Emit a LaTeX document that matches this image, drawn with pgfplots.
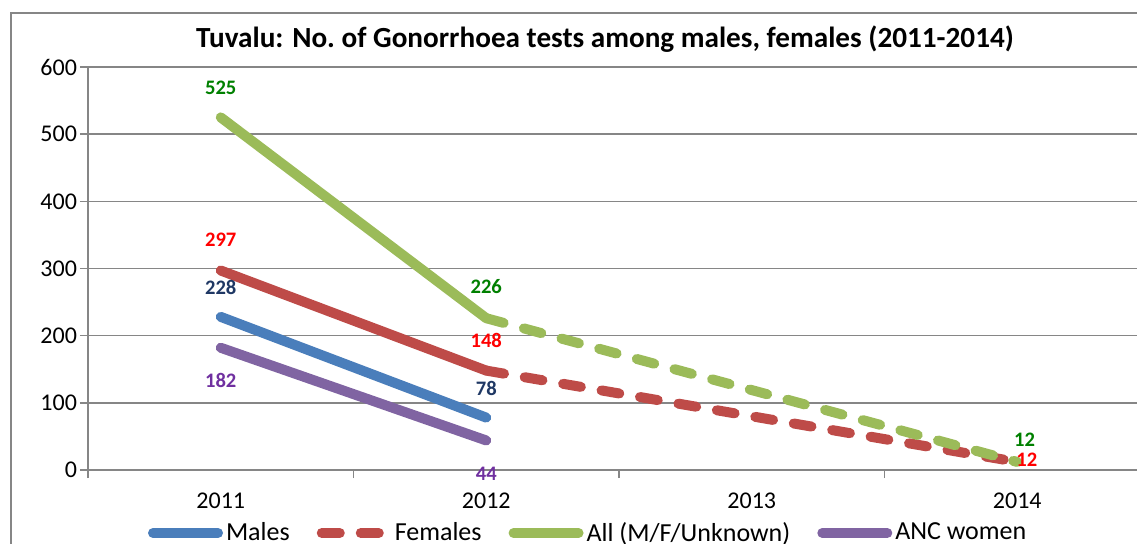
\documentclass[border=0pt]{standalone}
\usepackage{pgfplots}
\pgfplotsset{compat=1.18}
\usepackage{fontspec}
\setmainfont{Carlito}
\definecolor{cM}{RGB}{74,126,187}
\definecolor{cF}{RGB}{190,75,72}
\definecolor{cA}{RGB}{155,187,89}
\definecolor{cN}{RGB}{128,100,162}
\definecolor{gridc}{RGB}{134,134,134}
\definecolor{lM}{RGB}{31,56,100}
\definecolor{lF}{RGB}{255,0,0}
\definecolor{lA}{RGB}{0,128,0}
\definecolor{lN}{RGB}{112,48,160}
\begin{document}
\begin{tikzpicture}
\useasboundingbox (0,0) rectangle (568.5pt,271.5pt);
\clip (0,0) rectangle (568.5pt,271.5pt);
\draw[gridc, line width=0.75pt] (5.5pt,-10pt) -- (5.5pt,265pt) -- (600pt,265pt);
\begin{axis}[
  at={(44pt,36.5pt)}, anchor=south west, scale only axis,
  width=531pt, height=201.5pt,
  xmin=-0.5, xmax=3.5, ymin=0, ymax=600,
  xtick={0,1,2,3}, xticklabels={2011,2012,2013,2014},
  minor xtick={-0.5,0.5,1.5,2.5,3.5},
  ytick={0,100,...,600},
  tick pos=left, tick align=outside,
  major tick length=4pt, minor tick length=4pt,
  every major x tick/.append style={draw=none},
  tick style={gridc, line width=0.75pt},
  ymajorgrids, grid style={gridc, line width=0.75pt},
  axis line style={gridc, line width=0.75pt},
  every tick label/.append style={font=\fontsize{12}{14}\selectfont},
  xticklabel style={yshift=-4pt},
  yticklabel style={xshift=2pt},
  /pgf/number format/assume math mode=true,
  clip=false,
  every axis plot/.append style={line width=5pt, line cap=round, line join=round},
  legend style={at={(0.0518,-0.1563)}, anchor=west, draw=none, fill=none,
    legend columns=4, font=\fontsize{13}{16}\selectfont, inner sep=0pt, outer sep=0pt,
    nodes={inner sep=0pt},
    /tikz/every even column/.append style={column sep=11pt},
    /tikz/every odd column/.append style={column sep=-1pt}},
  legend image code/.code={\path (0pt,0pt) (37.5pt,0pt); \draw[#1] (2.5pt,0pt) -- (35pt,0pt);},
]
\addplot[cM] coordinates {(0,228) (1,78)};
\addlegendentry{Males}
\addplot[cF, dash pattern=on 9pt off 10.5pt] coordinates {(1,148) (3,12)};
\addlegendentry{Females}
\addplot[cF, forget plot] coordinates {(0,297) (1,148)};
\addplot[cA] coordinates {(0,525) (1,226)};
\addlegendentry{All (M/F/Unknown)}
\addplot[cA, dash pattern=on 9pt off 10.5pt, forget plot] coordinates {(1,226) (3,12)};
\addplot[cN] coordinates {(0,182) (1,44)};
\addlegendentry{ANC women}
\begin{scope}[every node/.style={font=\fontsize{10.3}{12}\selectfont\bfseries, inner sep=0pt}]
\node[lA] at (axis cs:0,569.5) {525};
\node[lF] at (axis cs:0,342.4) {297};
\node[lM] at (axis cs:0,272.4) {228};
\node[lN] at (axis cs:0,134) {182};
\node[lA] at (axis cs:1,272.4) {226};
\node[lF] at (axis cs:1,192.8) {148};
\node[lM] at (axis cs:1,121.3) {78};
\node[lN] at (axis cs:1,-5.2) {44};
\node[lA] at (axis cs:3.028,44.7) {12};
\node[lF] at (axis cs:3.036,14.9) {12};
\end{scope}
\end{axis}
\node[font=\fontsize{14.6}{17}\selectfont\bfseries, anchor=base] at (302.5pt,248pt) {Tuvalu: No.\ of Gonorrhoea tests among males, females (2011-2014)};
\end{tikzpicture}
\end{document}
